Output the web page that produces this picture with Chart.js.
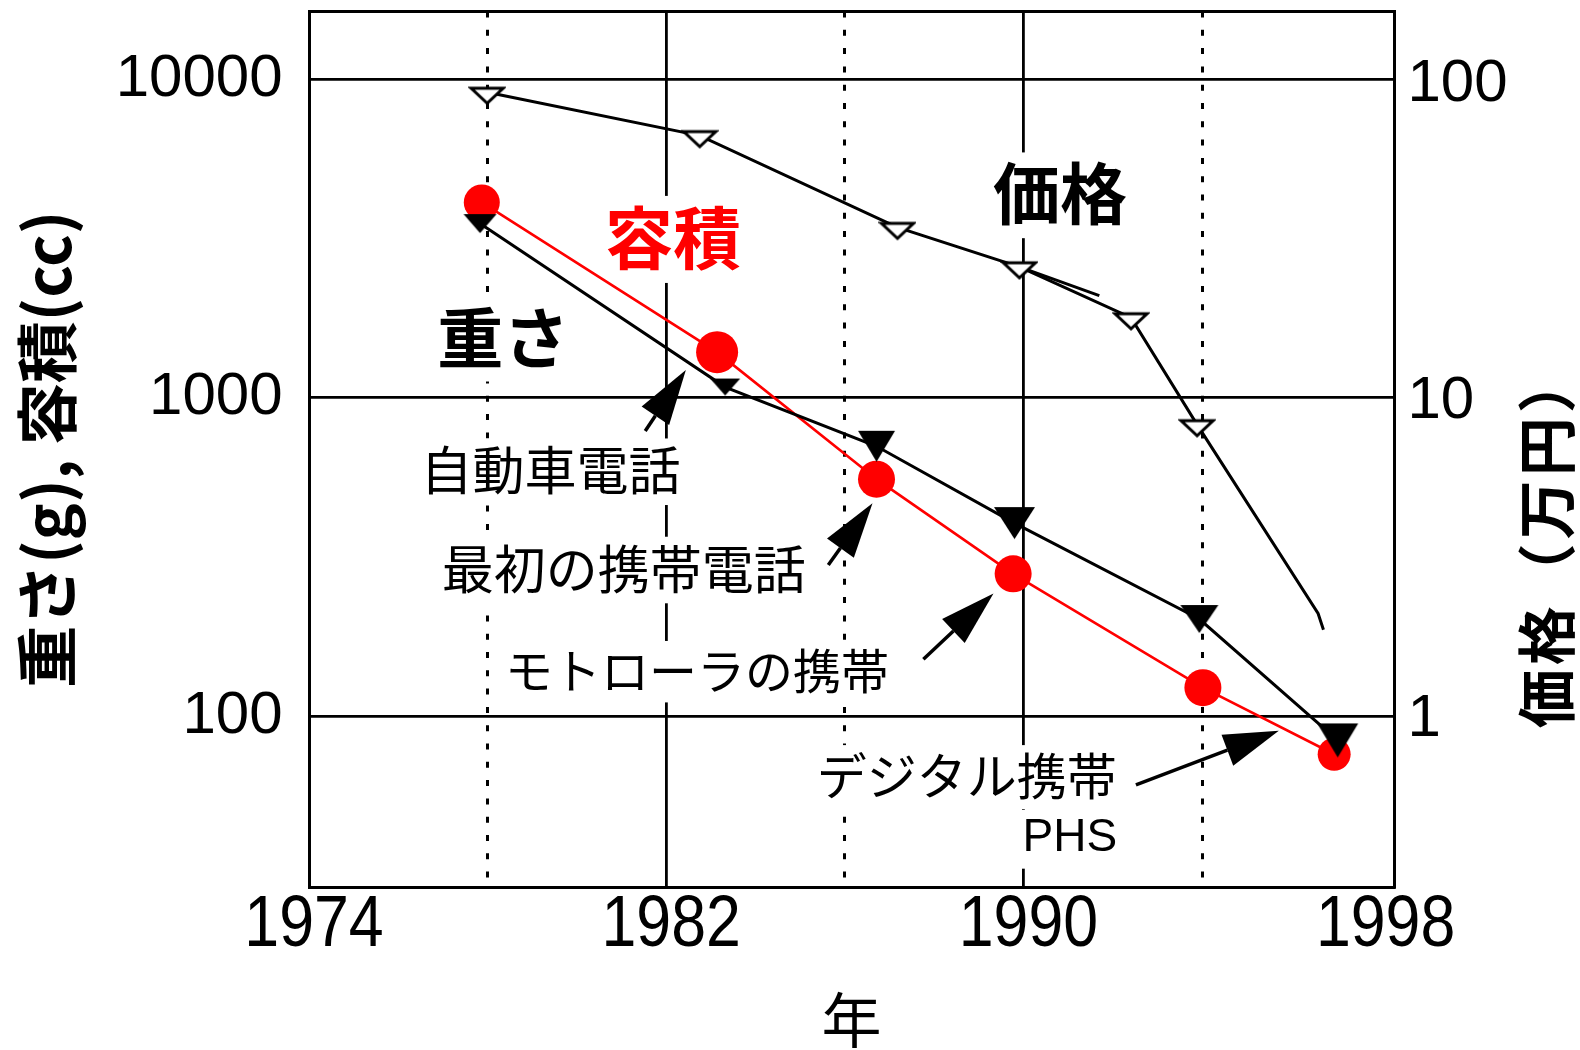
<!DOCTYPE html>
<html lang="ja">
<head>
<meta charset="utf-8">
<title>携帯電話の重さ・容積・価格の推移</title>
<script src="https://cdn.jsdelivr.net/npm/chart.js@4.4.1/dist/chart.umd.min.js"></script>
<style>
  html, body { margin: 0; padding: 0; background: #fff; }
  #wrap { width: 1580px; height: 1050px; }
</style>
</head>
<body>
<div id="wrap"><canvas id="chart" width="1580" height="1050"></canvas></div>
<script>
// ---- axis ticks ----
const yearTicks = [1974, 1978, 1982, 1986, 1990, 1994, 1998];
const yearLabels = ['1974', '', '1982', '', '1990', '', '1998'];
const dottedYears = [1978, 1986, 1994];
const leftTicks = [100, 1000, 10000];
const rightTicks = [1, 10, 100];

// ---- series ----
// 容積 (cc)
const volumeYears = [1977.87, 1983.14, 1986.71, 1989.77, 1994.02, 1996.96];
const volumeCc = [4100, 1390, 555, 280, 123, 76];
// 重さ (g)
const weightYears = [1977.83, 1983.32, 1986.71, 1989.80, 1993.94, 1997.04];
const weightG = [3520, 1080, 704, 404, 202, 84];
// 価格 (万円)
const priceYears = [1977.99, 1982.75, 1987.18, 1989.91, 1992.41, 1993.89, 1996.60, 1996.72];
const priceManYen = [94.2, 68.8, 35.4, 26.6, 18.4, 8.48, 2.16, 1.92];
// short extra stroke leaving the 1990 price point
const priceStrokeYears = [1989.91, 1991.70];
const priceStrokeManYen = [26.6, 21.6];

// ---- annotations (placed in data coordinates) ----
const JP = "'Noto Sans CJK JP', 'Noto Sans CJK SC', sans-serif";
const notes = [
  { text: '容積', year: 1982.15, value: 3170, font: `bold 68px ${JP}`, size: 68, color: '#ff0000' },
  { text: '重さ', year: 1978.35, value: 1540, font: `bold 66px ${JP}`, size: 66, color: '#000' },
  { text: '価格', year: 1990.82, value: 4360, font: `bold 67px ${JP}`, size: 67, color: '#000' },
  { text: '自動車電話', year: 1979.41, value: 590, font: `52px ${JP}`, size: 52, color: '#000' },
  { text: '最初の携帯電話', year: 1981.05, value: 290, font: `52px ${JP}`, size: 52, color: '#000' },
  { text: 'モトローラの携帯', year: 1982.69, value: 139, font: `48px ${JP}`, size: 48, color: '#000' },
  { text: 'デジタル携帯', year: 1988.73, value: 64.9, font: `50px ${JP}`, size: 50, color: '#000' },
  { text: 'PHS', year: 1991.04, value: 41.4, font: "46px 'Liberation Sans', Arial, sans-serif", size: 46, color: '#000' }
];
const arrows = [
  { from: [1981.53, 786], to: [1982.44, 1222] },
  { from: [1985.63, 298.5], to: [1986.62, 466] },
  { from: [1987.76, 151], to: [1989.33, 243] },
  { from: [1992.52, 60.9], to: [1995.72, 90.1] }
];

// ---- marker sprites ----
function triangleSprite(w, h, filled, above) {
  const pad = 3;
  const below = h - above;
  const half = Math.max(above, below) + pad;
  const c = document.createElement('canvas');
  c.width = Math.ceil(w + 2 * pad);
  c.height = Math.ceil(2 * half);
  const g = c.getContext('2d');
  const cx = c.width / 2;
  const top = c.height / 2 - above;
  g.beginPath();
  g.moveTo(cx - w / 2, top);
  g.lineTo(cx + w / 2, top);
  g.lineTo(cx, top + h);
  g.closePath();
  if (filled) {
    g.fillStyle = '#000';
    g.fill();
  } else {
    g.fillStyle = '#fff';
    g.fill();
    g.lineWidth = 3;
    g.strokeStyle = '#000';
    g.stroke();
  }
  return c;
}
const weightMarkSizes = [[33, 19], [30, 17], [37, 31], [41, 32], [38, 28], [41, 34]];
const weightMarks = weightMarkSizes.map(([w, h]) => triangleSprite(w, h, true, h / 2));
const priceMark = triangleSprite(32, 15, false, 4);
const volumeRadii = [18, 21, 18.5, 18.5, 18.5, 16.5];

const toPoints = (xs, ys) => xs.map((x, i) => ({ x, y: ys[i] }));

function drawArrow(ctx, x0, y0, x1, y1) {
  const headLen = 55, headHalf = 16.5;
  const ang = Math.atan2(y1 - y0, x1 - x0);
  const bx = x1 - headLen * Math.cos(ang);
  const by = y1 - headLen * Math.sin(ang);
  ctx.strokeStyle = '#000';
  ctx.fillStyle = '#000';
  ctx.lineWidth = 3.5;
  ctx.beginPath();
  ctx.moveTo(x0, y0);
  ctx.lineTo(bx, by);
  ctx.stroke();
  ctx.beginPath();
  ctx.moveTo(x1, y1);
  ctx.lineTo(bx + headHalf * Math.sin(ang), by - headHalf * Math.cos(ang));
  ctx.lineTo(bx - headHalf * Math.sin(ang), by + headHalf * Math.cos(ang));
  ctx.closePath();
  ctx.fill();
}

const notesPlugin = {
  id: 'notes',
  beforeDatasetsDraw(chart) {
    const { ctx, scales: { x, y } } = chart;
    ctx.save();
    ctx.textAlign = 'center';
    ctx.textBaseline = 'middle';
    for (const n of notes) {
      const px = x.getPixelForValue(n.year);
      const py = y.getPixelForValue(n.value);
      ctx.font = n.font;
      const w = ctx.measureText(n.text).width;
      ctx.fillStyle = '#fff';
      ctx.fillRect(px - w / 2 - 6, py - n.size * 0.62, w + 12, n.size * 1.28);
      ctx.fillStyle = n.color;
      ctx.fillText(n.text, px, py);
    }
    for (const a of arrows) {
      drawArrow(ctx,
        x.getPixelForValue(a.from[0]), y.getPixelForValue(a.from[1]),
        x.getPixelForValue(a.to[0]), y.getPixelForValue(a.to[1]));
    }
    ctx.restore();
  },
  afterDraw(chart) {
    const { ctx, chartArea } = chart;
    const xs = chart.scales.x;

    // year labels in a condensed face
    ctx.save();
    ctx.font = "72px 'Liberation Sans', Arial, sans-serif";
    ctx.textAlign = 'center';
    ctx.textBaseline = 'middle';
    ctx.fillStyle = '#000';
    for (const t of xs.ticks) {
      const label = yearLabels[yearTicks.indexOf(t.value)];
      if (!label) continue;
      ctx.save();
      ctx.translate(xs.getPixelForValue(t.value) + 5, xs.top + 39);
      ctx.scale(0.87, 1);
      ctx.fillText(label, 0, 0);
      ctx.restore();
    }
    ctx.restore();

    // right-hand axis title, reading bottom to top
    ctx.save();
    ctx.translate(chart.width - 33, (chartArea.top + chartArea.bottom) / 2 + 90);
    ctx.rotate(-Math.PI / 2);
    ctx.font = `bold 59px ${JP}`;
    if ('letterSpacing' in ctx) ctx.letterSpacing = '4px';
    ctx.textAlign = 'center';
    ctx.textBaseline = 'middle';
    ctx.fillStyle = '#000';
    ctx.fillText('価格（万円）', 0, 0);
    ctx.restore();
  }
};

const zeroPad = (s) => { s.paddingTop = 0; s.paddingBottom = 0; s.paddingLeft = 0; s.paddingRight = 0; };
const tickValue = (c) => (c && c.tick ? c.tick.value : null);

Chart.defaults.font.family = "'Liberation Sans', Arial, sans-serif";
Chart.defaults.color = '#000';

new Chart(document.getElementById('chart'), {
  type: 'line',
  data: {
    datasets: [
      {
        label: '重さ',
        data: toPoints(weightYears, weightG),
        yAxisID: 'y',
        borderColor: '#000',
        borderWidth: 3,
        pointStyle: weightMarks,
        pointRadius: 10,
        pointBorderWidth: 0,
        tension: 0
      },
      {
        label: '容積',
        data: toPoints(volumeYears, volumeCc),
        yAxisID: 'y',
        borderColor: '#ff0000',
        borderWidth: 2.6,
        pointStyle: 'circle',
        pointRadius: volumeRadii,
        pointBackgroundColor: '#ff0000',
        pointBorderColor: '#ff0000',
        pointBorderWidth: 0,
        tension: 0
      },
      {
        label: '価格',
        data: toPoints(priceYears, priceManYen),
        yAxisID: 'y2',
        borderColor: '#000',
        borderWidth: 3,
        pointStyle: priceMark,
        pointRadius: [10, 10, 10, 10, 10, 10, 0, 0],
        pointBorderWidth: 0,
        tension: 0
      },
      {
        label: '価格 (stroke)',
        data: toPoints(priceStrokeYears, priceStrokeManYen),
        yAxisID: 'y2',
        borderColor: '#000',
        borderWidth: 3,
        pointRadius: 0,
        tension: 0
      }
    ]
  },
  options: {
    responsive: false,
    animation: false,
    devicePixelRatio: 1,
    layout: { autoPadding: false, padding: { top: 11.5, left: 0, right: 0, bottom: 0 } },
    plugins: {
      legend: { display: false },
      tooltip: { enabled: false },
      title: { display: false }
    },
    scales: {
      x: {
        type: 'linear',
        position: 'bottom',
        min: 1974,
        max: 1998.3,
        afterBuildTicks: (s) => { s.ticks = yearTicks.map((v) => ({ value: v })); },
        afterFit: (s) => { s.height = 163; zeroPad(s); },
        grid: {
          drawTicks: false,
          color: (c) => {
            const v = tickValue(c);
            return (v === 1974 || v === 1998) ? 'rgba(0,0,0,0)' : '#000';
          },
          lineWidth: (c) => (dottedYears.includes(tickValue(c)) ? 3 : 2.8)
        },
        border: {
          display: true,
          color: '#000',
          width: 3,
          dash: (c) => (dottedYears.includes(tickValue(c)) ? [6, 12.3] : [])
        },
        ticks: { display: false, autoSkip: false, maxRotation: 0, minRotation: 0 },
        title: {
          display: true,
          text: '年',
          color: '#000',
          font: { family: JP, size: 60, lineHeight: 1 },
          padding: { top: 0, bottom: 0 }
        }
      },
      x2: {
        type: 'linear',
        position: 'top',
        afterFit: (s) => { s.height = 0; zeroPad(s); },
        grid: { display: false, drawTicks: false },
        ticks: { display: false },
        border: { display: true, color: '#000', width: 3 }
      },
      y: {
        type: 'logarithmic',
        position: 'left',
        min: 29.12,
        max: 16300,
        afterBuildTicks: (s) => { s.ticks = leftTicks.map((v) => ({ value: v })); },
        afterFit: (s) => { s.width = 309; zeroPad(s); },
        grid: { drawTicks: false, color: '#000', lineWidth: 2.8 },
        border: { display: true, color: '#000', width: 3 },
        ticks: {
          padding: 26.5,
          color: '#000',
          font: { size: 60, lineHeight: 1 },
          callback: (v) => String(v)
        },
        title: {
          display: true,
          text: '重さ(g), 容積(cc)',
          color: '#000',
          font: { family: JP, size: 62, weight: 'bold', lineHeight: 1 },
          padding: { top: 16, bottom: 0 }
        }
      },
      y2: {
        type: 'logarithmic',
        position: 'right',
        min: 0.298,
        max: 169,
        afterBuildTicks: (s) => { s.ticks = rightTicks.map((v) => ({ value: v })); },
        afterFit: (s) => { s.width = 186; zeroPad(s); },
        grid: { drawOnChartArea: false, drawTicks: false },
        border: { display: true, color: '#000', width: 3 },
        ticks: {
          padding: 13.5,
          color: '#000',
          font: { size: 60, lineHeight: 1 },
          callback: (v) => String(v)
        }
      }
    }
  },
  plugins: [notesPlugin]
});
</script>
</body>
</html>
